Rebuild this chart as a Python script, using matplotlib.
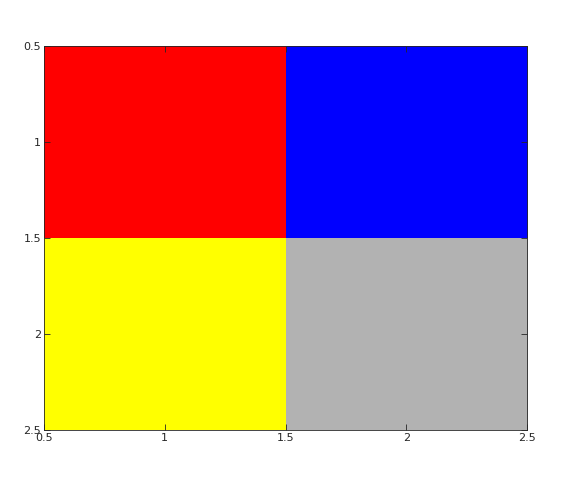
import matplotlib
matplotlib.use("Agg")
import matplotlib.pyplot as plt
import numpy as np

# 2x2 image cell colours (row-major)
cell_colors = [
    [(1.0, 0.0, 0.0), (0.0, 0.0, 1.0)],
    [(1.0, 1.0, 0.0), (0.7, 0.7, 0.7)],
]
ticks_x = [0.5, 1, 1.5, 2, 2.5]
ticks_y = [0.5, 1, 1.5, 2, 2.5]
tick_labels = ["0.5", "1", "1.5", "2", "2.5"]

fig = plt.figure(figsize=(5.67, 4.91), dpi=100)
ax = fig.add_axes([0.0776, 0.124, 0.852, 0.782])
ax.imshow(np.array(cell_colors), extent=(0.5, 2.5, 2.5, 0.5), aspect="auto",
          interpolation="nearest")
ax.set_xlim(0.5, 2.5)
ax.set_ylim(2.5, 0.5)
ax.set_xticks(ticks_x)
ax.set_xticklabels(tick_labels)
ax.set_yticks(ticks_y)
ax.set_yticklabels(tick_labels)
ax.tick_params(direction="in", top=True, right=True, labelsize=8, length=4,
               width=0.6, colors="#262626", pad=2)
for s in ax.spines.values():
    s.set_linewidth(0.6)
    s.set_color("#262626")

fig.savefig("out.png", dpi=100)
